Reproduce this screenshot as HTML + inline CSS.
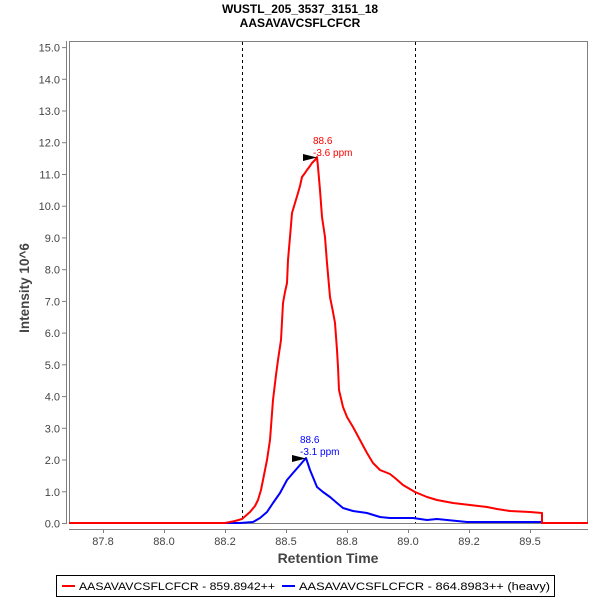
<!DOCTYPE html>
<html>
<head>
<meta charset="utf-8">
<style>
html,body{margin:0;padding:0;background:#fff;}
svg{display:block;font-family:"Liberation Sans","DejaVu Sans",sans-serif;}
</style>
</head>
<body>
<svg width="600" height="600" viewBox="0 0 600 600" xmlns="http://www.w3.org/2000/svg">
<rect x="0" y="0" width="600" height="600" fill="#fff"/>
<!-- Title -->
<text x="300" y="13" text-anchor="middle" font-size="12" font-weight="bold" fill="#000">WUSTL_205_3537_3151_18</text>
<text x="300" y="27" text-anchor="middle" font-size="12" font-weight="bold" fill="#000">AASAVAVCSFLCFCR</text>

<!-- Plot area -->
<rect x="69.5" y="41.5" width="518" height="482" fill="#fff" stroke="#808080" stroke-width="1"/>

<!-- Y axis -->
<line x1="66.5" y1="41" x2="66.5" y2="524" stroke="#808080" stroke-width="1"/>
<g stroke="#808080" stroke-width="1">
<line x1="62" y1="523.5" x2="66" y2="523.5"/>
<line x1="62" y1="491.8" x2="66" y2="491.8"/>
<line x1="62" y1="460" x2="66" y2="460"/>
<line x1="62" y1="428.3" x2="66" y2="428.3"/>
<line x1="62" y1="396.6" x2="66" y2="396.6"/>
<line x1="62" y1="364.8" x2="66" y2="364.8"/>
<line x1="62" y1="333.1" x2="66" y2="333.1"/>
<line x1="62" y1="301.4" x2="66" y2="301.4"/>
<line x1="62" y1="269.7" x2="66" y2="269.7"/>
<line x1="62" y1="237.9" x2="66" y2="237.9"/>
<line x1="62" y1="206.2" x2="66" y2="206.2"/>
<line x1="62" y1="174.5" x2="66" y2="174.5"/>
<line x1="62" y1="142.7" x2="66" y2="142.7"/>
<line x1="62" y1="111" x2="66" y2="111"/>
<line x1="62" y1="79.3" x2="66" y2="79.3"/>
<line x1="62" y1="47.6" x2="66" y2="47.6"/>
</g>
<g font-size="11" fill="#444" text-anchor="end">
<text x="60" y="527.5">0.0</text>
<text x="60" y="495.8">1.0</text>
<text x="60" y="464">2.0</text>
<text x="60" y="432.3">3.0</text>
<text x="60" y="400.6">4.0</text>
<text x="60" y="368.8">5.0</text>
<text x="60" y="337.1">6.0</text>
<text x="60" y="305.4">7.0</text>
<text x="60" y="273.7">8.0</text>
<text x="60" y="241.9">9.0</text>
<text x="60" y="210.2">10.0</text>
<text x="60" y="178.5">11.0</text>
<text x="60" y="146.7">12.0</text>
<text x="60" y="115">13.0</text>
<text x="60" y="83.3">14.0</text>
<text x="60" y="51.6">15.0</text>
</g>
<text transform="translate(29,288) rotate(-90)" text-anchor="middle" font-size="13.5" font-weight="bold" fill="#444">Intensity 10^6</text>

<!-- X axis -->
<line x1="69" y1="529.5" x2="588" y2="529.5" stroke="#808080" stroke-width="1"/>
<g stroke="#808080" stroke-width="1">
<line x1="103.5" y1="529" x2="103.5" y2="533"/>
<line x1="164.5" y1="529" x2="164.5" y2="533"/>
<line x1="225.5" y1="529" x2="225.5" y2="533"/>
<line x1="286.5" y1="529" x2="286.5" y2="533"/>
<line x1="347.5" y1="529" x2="347.5" y2="533"/>
<line x1="408.5" y1="529" x2="408.5" y2="533"/>
<line x1="469.5" y1="529" x2="469.5" y2="533"/>
<line x1="530.5" y1="529" x2="530.5" y2="533"/>
</g>
<g font-size="11" fill="#444" text-anchor="middle">
<text x="103" y="545">87.8</text>
<text x="164" y="545">88.0</text>
<text x="225" y="545">88.2</text>
<text x="286" y="545">88.5</text>
<text x="347" y="545">88.8</text>
<text x="408" y="545">89.0</text>
<text x="469" y="545">89.2</text>
<text x="530" y="545">89.5</text>
</g>
<text x="328" y="563" text-anchor="middle" font-size="14" font-weight="bold" fill="#444">Retention Time</text>

<!-- Dashed markers -->
<line x1="242.5" y1="42" x2="242.5" y2="523" stroke="#000" stroke-width="1" stroke-dasharray="3,3"/>
<line x1="415.5" y1="42" x2="415.5" y2="523" stroke="#000" stroke-width="1" stroke-dasharray="3,3"/>

<!-- Blue series -->
<polyline fill="none" stroke="#0000ff" stroke-width="2" stroke-linejoin="round" points="69,523 240,523 253,522 260,518 267,512 273,503 280,493 287,480 293,473 300,465 306,458 310,470 317,487 323,492 330,497 337,503 343,508 353,511 367,513 380,517 390,518 413,518 427,520 437,519 467,522 503,522 542,522 542,523 588,523"/>

<!-- Red series -->
<polyline fill="none" stroke="#ff0000" stroke-width="2" stroke-linejoin="round" points="69,523 225,523 230,522 235,521 242,519 250,512 255,506 258,500 261,490 263,480 265,470 267,460 270,440 273,400 276,375 278,360 281,340 283,303 285,292 287,283 288,260 290,237 292,213 295,203 298,193 300,186 302,177 305,173 307,170 310,166 312,163 315,160 317,157 318,167 320,190 322,217 325,237 327,263 330,297 333,312 335,323 337,350 338,367 339,390 343,407 347,417 353,427 360,440 367,453 373,463 380,470 385,472 390,474 395,478 403,485 415,492 427,497 437,500 453,503 470,505 487,507 497,509 510,511 530,512 542,513 542,523 588,523"/>

<!-- Annotations -->
<polygon points="303,154 317,157.5 303,161" fill="#000"/>
<text x="313" y="144" font-size="10" fill="#ff0000">88.6</text>
<text x="313" y="156" font-size="10" fill="#ff0000">-3.6 ppm</text>

<polygon points="292,455 306,458.5 292,462" fill="#000"/>
<text x="300" y="443" font-size="10" fill="#0000ff">88.6</text>
<text x="300" y="455" font-size="10" fill="#0000ff">-3.1 ppm</text>

<!-- Legend -->
<rect x="56.5" y="575.5" width="498" height="21" fill="#fff" stroke="#000" stroke-width="1"/>
<line x1="62" y1="586" x2="75" y2="586" stroke="#ff0000" stroke-width="2"/>
<text x="79" y="590" font-size="11" fill="#000" textLength="196" lengthAdjust="spacingAndGlyphs">AASAVAVCSFLCFCR - 859.8942++</text>
<line x1="282" y1="586" x2="295" y2="586" stroke="#0000ff" stroke-width="2"/>
<text x="299" y="590" font-size="11" fill="#000" textLength="251" lengthAdjust="spacingAndGlyphs">AASAVAVCSFLCFCR - 864.8983++ (heavy)</text>
</svg>
</body>
</html>
